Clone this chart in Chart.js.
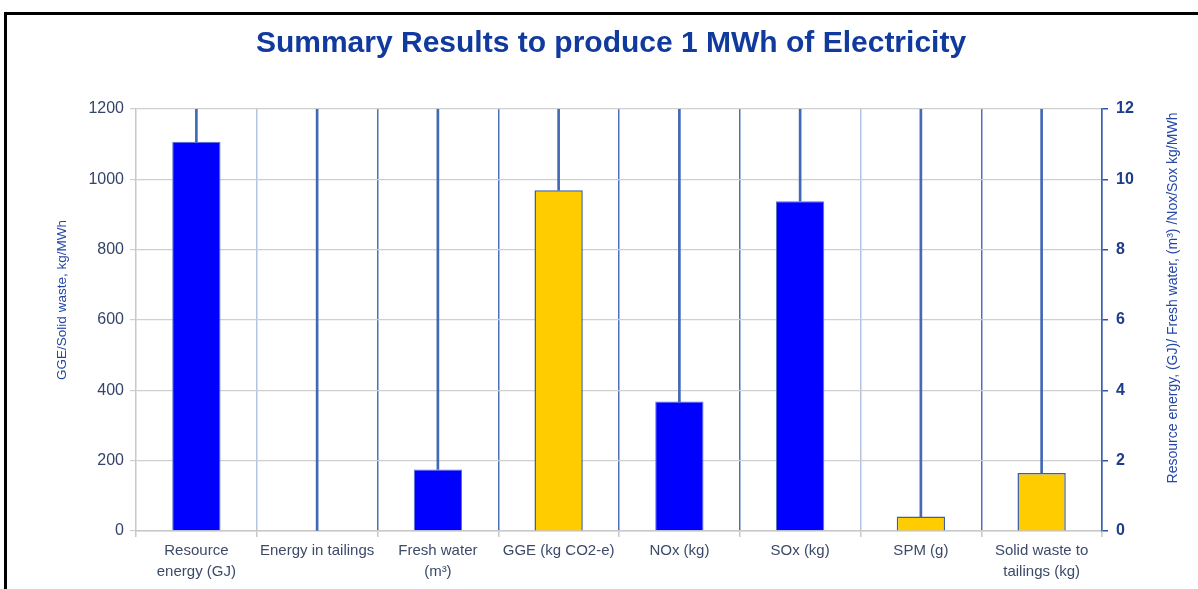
<!DOCTYPE html>
<html>
<head>
<meta charset="utf-8">
<script src="https://cdn.jsdelivr.net/npm/chart.js@4"></script>
<style>
  html, body { margin: 0; padding: 0; background: #fff; }
  #wrap { position: relative; width: 1198px; height: 589px; }
  #frame { position: absolute; left: 4px; top: 12px; width: 1300px; height: 700px;
           border-top: 3px solid #000; border-left: 3px solid #000; pointer-events: none; }
</style>
</head>
<body>
<div id="wrap">
  <canvas id="summaryChart"></canvas>
  <div id="frame"></div>
</div>
<script>
// categories on the x axis
const categories = [
  ["Resource", "energy (GJ)"],
  "Energy in tailings",
  ["Fresh water", "(m³)"],
  "GGE (kg CO2-e)",
  "NOx (kg)",
  "SOx (kg)",
  "SPM (g)",
  ["Solid waste to", "tailings (kg)"]
];

// blue bars, read on the right axis
const rightValues = [11.07, 0, 1.75, null, 3.68, 9.38, null, null];
// yellow bars, read on the left axis
const leftValues = [null, null, null, 969, null, null, 41, 165];

const leftMax = 1200, leftStep = 200;
const rightMax = 12, rightStep = 2;

const leftTitle = "GGE/Solid waste, kg/MWh";
const rightTitle = "Resource energy, (GJ)/ Fresh water, (m³) /Nox/Sox kg/MWh";

// drop lines from the top of the plot down to each bar
const dropLines = categories.map((c, i) => {
  const top = leftValues[i] != null ? leftValues[i] : (rightValues[i] || 0) * leftMax / rightMax;
  return [top, leftMax];
});

const FONT = "'Liberation Sans', Arial, sans-serif";

const axisTitles = {
  id: "axisTitles",
  afterDraw(chart) {
    const { ctx, chartArea } = chart;
    ctx.save();
    ctx.fillStyle = "#2447a8";
    ctx.font = "13.5px " + FONT;
    ctx.textAlign = "center";
    ctx.textBaseline = "middle";
    ctx.translate(62, chartArea.top + 191);
    ctx.rotate(-Math.PI / 2);
    ctx.fillText(leftTitle, 0, 0);
    ctx.restore();

    ctx.save();
    ctx.fillStyle = "#2447a8";
    ctx.font = "14px " + FONT;
    ctx.textAlign = "center";
    ctx.textBaseline = "middle";
    ctx.translate(1173, chartArea.top + 189);
    ctx.rotate(-Math.PI / 2);
    ctx.fillText(rightTitle, 0, 0);
    ctx.restore();
  }
};

const ctx = document.getElementById("summaryChart").getContext("2d");
new Chart(ctx, {
  type: "bar",
  data: {
    labels: categories,
    datasets: [
      {
        label: "drop",
        data: dropLines,
        yAxisID: "y",
        grouped: false,
        barThickness: 2,
        backgroundColor: "#4169b5",
        borderWidth: 0
      },
      {
        label: "right",
        data: rightValues,
        yAxisID: "y2",
        grouped: false,
        barPercentage: 0.4,
        categoryPercentage: 1,
        backgroundColor: "#0000ff",
        borderColor: "#5b78c0",
        borderWidth: 1
      },
      {
        label: "left",
        data: leftValues,
        yAxisID: "y",
        grouped: false,
        barPercentage: 0.4,
        categoryPercentage: 1,
        backgroundColor: "#ffcc00",
        borderColor: "#3a5fa8",
        borderWidth: 1.5
      }
    ]
  },
  options: {
    responsive: true,
    maintainAspectRatio: false,
    animation: false,
    layout: { padding: { left: 24, right: 0, top: 0, bottom: 0 } },
    plugins: {
      legend: { display: false },
      tooltip: { enabled: false },
      title: {
        display: true,
        text: "Summary Results to produce 1 MWh of Electricity",
        color: "#113a9e",
        font: { family: FONT, size: 30, weight: "bold" },
        padding: { top: 26, bottom: 47 }
      }
    },
    scales: {
      x: {
        offset: true,
        grid: {
          offset: true,
          drawOnChartArea: true,
          tickLength: 6,
          tickColor: "#c8c8c8",
          lineWidth: 1.5,
          color: c => (c.index === 0 || c.index === 8) ? "rgba(0,0,0,0)"
                    : (c.index === 1 || c.index === 6) ? "#b3c3e2" : "#4d72ba"
        },
        border: { color: "#c8c8c8", width: 1.5 },
        ticks: {
          color: "#3c4a6a",
          font: { family: FONT, size: 15, lineHeight: 1.4 },
          padding: 3,
          maxRotation: 0,
          autoSkip: false
        },
        afterFit: s => { s.height = 58; }
      },
      y: {
        position: "left",
        min: 0,
        max: leftMax,
        grid: { color: "#cfcfcf", lineWidth: 1.2, tickLength: 6 },
        border: { color: "#c8c8c8", width: 1.5 },
        ticks: {
          stepSize: leftStep,
          color: "#34446a",
          font: { family: FONT, size: 16 },
          padding: 6,
          callback: v => String(v)
        },
        afterFit: s => { s.width = 112; }
      },
      y2: {
        position: "right",
        min: 0,
        max: rightMax,
        grid: { drawOnChartArea: false, color: "#2a55a8", tickLength: 6, lineWidth: 1.5 },
        border: { color: "#3d62b0", width: 1.5 },
        ticks: {
          stepSize: rightStep,
          color: "#1e3c8c",
          font: { family: FONT, size: 16, weight: "bold" },
          padding: 8,
          callback: v => String(v)
        },
        afterFit: s => { s.width = 96; }
      }
    }
  },
  plugins: [axisTitles]
});
</script>
</body>
</html>
